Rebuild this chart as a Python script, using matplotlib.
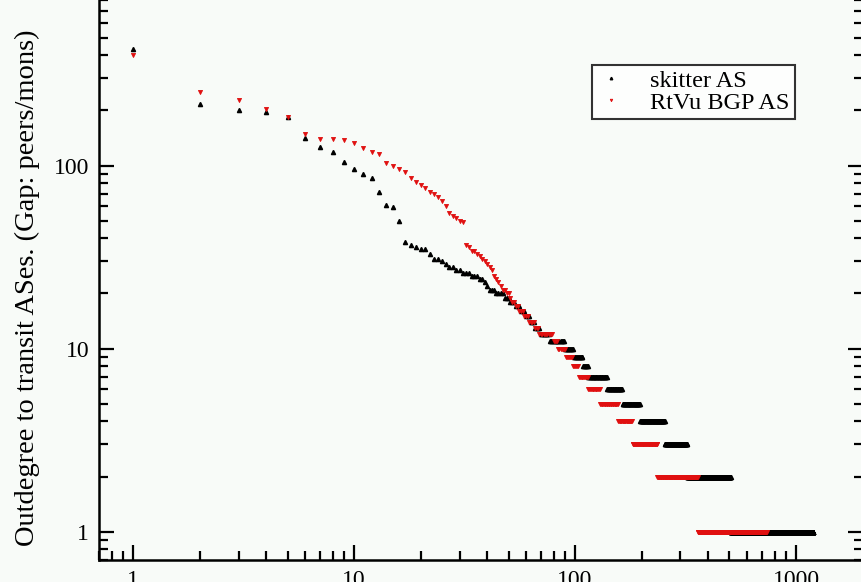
import numpy as np
import matplotlib
matplotlib.use('Agg')
import matplotlib.pyplot as plt
from matplotlib.ticker import FuncFormatter, LogLocator

plt.rcParams['font.family'] = ['Liberation Serif', 'DejaVu Serif']

# skitter AS: outdegree of the first ranks, then runs of (value, last rank)
skitter_head = [432, 216, 200, 195, 185, 141, 127, 118, 105, 96,
                90, 86, 72, 61, 59, 50, 38, 37, 36, 35,
                35, 33, 31, 31, 30, 29, 28, 28, 27, 27,
                26, 26, 26, 25, 25, 25, 24, 24, 23, 22,
                21, 21, 21, 20, 20, 20, 20, 19, 19, 19,
                18, 18, 18, 17, 17, 17, 16, 16, 16, 15,
                15, 15, 14, 14, 14, 13, 13, 13, 13]
skitter_run_vals = [12, 11, 10, 9, 8, 7, 6, 5, 4, 3, 2, 1]
skitter_run_ends = [76, 89, 98, 108, 114, 139, 163, 196, 254, 321, 506, 1200]

# RtVu BGP AS
rtvu_head = [401, 251, 227, 203, 185, 148, 139, 139, 138, 132,
             124, 118, 115, 103, 100, 96, 92, 86, 81, 78,
             75, 72, 70, 67, 64, 60, 55, 53, 52, 50,
             49, 37, 36, 34, 34, 33, 32, 31, 30, 29,
             28, 27, 25, 24, 23, 22, 21, 21, 20, 20,
             19, 18, 18, 17, 17, 16, 16, 16, 15, 15,
             15, 14, 14, 14, 14, 13, 13, 13]
rtvu_run_vals = [12, 11, 10, 9, 8, 7, 6, 5, 4, 3, 2, 1]
rtvu_run_ends = [79, 83, 90, 97, 103, 114, 129, 156, 181, 235, 359, 736]


def expand(head, vals, ends):
    y = list(head)
    for v, e in zip(vals, ends):
        y += [v] * (e - len(y))
    return np.arange(1, len(y) + 1), np.array(y)


xs, ys = expand(skitter_head, skitter_run_vals, skitter_run_ends)
xr, yr = expand(rtvu_head, rtvu_run_vals, rtvu_run_ends)

bg = '#f8fbf8'
fig = plt.figure(figsize=(8.61, 5.82), dpi=100, facecolor=bg)
ax = fig.add_axes([99 / 861, 22 / 582, 763.5 / 861, 577.5 / 582])
ax.set_facecolor(bg)

ax.plot(xs, ys, linestyle='none', marker='^', markersize=3.0,
        color='black', label='skitter AS')
ax.plot(xr, yr, linestyle='none', marker='v', markersize=3.0,
        markeredgewidth=0.6, color='#e01010', label='RtVu BGP AS')

ax.set_xscale('log')
ax.set_yscale('log')
ax.set_xlim(0.7, 2000)
ax.set_ylim(0.7, 1000)

fmt = FuncFormatter(lambda v, p: f'{v:g}')
ax.xaxis.set_major_formatter(fmt)
ax.yaxis.set_major_formatter(fmt)
ax.xaxis.set_minor_locator(LogLocator(base=10, subs=np.arange(2, 10)))
ax.yaxis.set_minor_locator(LogLocator(base=10, subs=np.arange(2, 10)))
ax.xaxis.set_minor_formatter(plt.NullFormatter())
ax.yaxis.set_minor_formatter(plt.NullFormatter())

ax.tick_params(which='both', direction='in', top=True, right=True,
               width=1.6, labelsize=17, pad=7)
ax.tick_params(which='major', length=11)
ax.tick_params(which='minor', length=6.5)
for s in ax.spines.values():
    s.set_linewidth(1.8)

fig.text(27 / 861, 1 - 288 / 582,
         'Outdegree to transit ASes. (Gap: peers/mons)',
         rotation=90, ha='center', va='center', fontsize=20.5)

leg = ax.legend(loc='upper left', bbox_to_anchor=(592 / 861, 1 - 65 / 582),
                bbox_transform=fig.transFigure, fontsize=17.5,
                frameon=True, fancybox=False, markerscale=0.6,
                handlelength=1.2, handletextpad=1.0, borderpad=0.2,
                labelspacing=0.0, borderaxespad=0)
leg.get_frame().set_edgecolor('black')
leg.get_frame().set_linewidth(1.5)
leg.get_frame().set_facecolor('white')

fig.savefig('out.png', dpi=100, facecolor=bg)
